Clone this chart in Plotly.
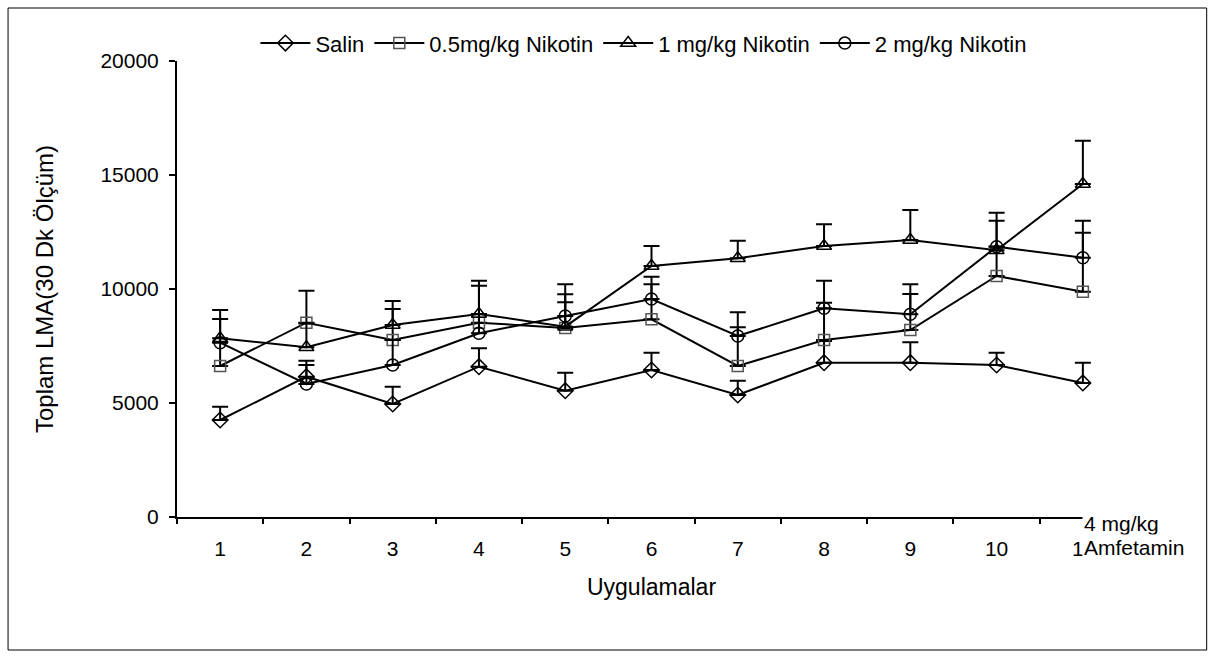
import plotly.graph_objects as go

categories = ["1", "2", "3", "4", "5", "6", "7", "8", "9", "10", "11"]

salin = [4254, 6154, 4956, 6592, 5540, 6447, 5351, 6768, 6768, 6667, 5880]
salin_se = [584, 702, 760, 806, 789, 759, 627, 950, 893, 540, 888]

nik05 = [6623, 8523, 7763, 8523, 8289, 8670, 6623, 7763, 8202, 10570, 9883]
nik05_se = [1050, 1403, 1360, 1623, 1478, 1535, 1697, 1637, 1579, 1290, 2587]

nik1 = [7836, 7442, 8421, 8904, 8347, 11009, 11346, 11886, 12149, 11700, 14605]
nik1_se = [1243, 1050, 1053, 1461, 1069, 877, 772, 952, 1316, 1297, 1900]

nik2 = [7645, 5833, 6667, 8057, 8816, 9561, 7939, 9153, 8889, 11857, 11373]
nik2_se = [1039, 834, 1100, 850, 1389, 979, 1039, 1212, 1316, 1491, 1624]

series = [
    ("Salin", salin, salin_se, "diamond-open", 12, "black"),
    ("0.5mg/kg Nikotin", nik05, nik05_se, "square-open", 11, "#555555"),
    ("1 mg/kg Nikotin", nik1, nik1_se, "triangle-up-open", 13, "black"),
    ("2 mg/kg Nikotin", nik2, nik2_se, "circle-open", 12, "black"),
]

y_ticks = [0, 5000, 10000, 15000, 20000]

fig = go.Figure()
for name, vals, se, sym, size, mcol in series:
    fig.add_trace(go.Scatter(
        x=categories, y=vals, name=name, mode="lines+markers",
        line=dict(color="black", width=2),
        marker=dict(symbol=sym, size=size, color=mcol, line=dict(width=1.5, color=mcol)),
        error_y=dict(type="data", symmetric=False, array=se, arrayminus=[0] * len(se),
                     color="black", thickness=2, width=8),
    ))

FONT = "Liberation Sans, Arial, sans-serif"

fig.update_layout(
    width=1216, height=666,
    margin=dict(l=177, r=90, t=61, b=149, pad=0, autoexpand=False),
    paper_bgcolor="white", plot_bgcolor="white",
    font=dict(family=FONT, size=21, color="black"),
    showlegend=True,
    legend=dict(orientation="h", x=0.492, xanchor="center", yref="container", y=0.935, yanchor="middle",
                font=dict(family=FONT, size=22), itemwidth=50,
                bgcolor="rgba(0,0,0,0)", tracegroupgap=0),
    xaxis=dict(type="category", range=[-0.5, 10.5], tickson="boundaries", ticks="outside", ticklen=5,
               tickwidth=1.5, tickcolor="black", showline=True, linecolor="black", linewidth=2,
               showgrid=False, zeroline=False, ticklabelstandoff=12,
               title=dict(text="Uygulamalar", standoff=20, font=dict(size=23))),
    yaxis=dict(range=[0, 20000], tickvals=y_ticks, tickformat="d", ticks="outside", ticklen=6,
               tickwidth=1.5, tickcolor="black", showline=True, linecolor="black", linewidth=2,
               showgrid=False, zeroline=False, ticklabelstandoff=6,
               title=dict(text="Toplam LMA(30 Dk Ölçüm)", standoff=40, font=dict(size=24))),
    shapes=[dict(type="rect", xref="paper", yref="paper",
                 x0=(8 - 177) / 949.3, x1=(1207 - 177) / 949.3,
                 y0=(517 - 650) / 456, y1=(517 - 8) / 456,
                 line=dict(color="black", width=1), fillcolor="rgba(0,0,0,0)", layer="below")],
    annotations=[
        dict(x="11", y=5000, xref="x", yref="y", xshift=-4, showarrow=True, ax=0, ay=110,
             arrowhead=2, arrowsize=1.5, arrowwidth=2, arrowcolor="black", text=""),
        dict(x=(1082 - 177) / 949.3, y=(517 - 510) / 456, xref="paper", yref="paper",
             xanchor="left", yanchor="top", align="left", showarrow=False,
             text="4 mg/kg", bgcolor="white", borderpad=1, width=110,
             font=dict(family=FONT, size=21)),
        dict(x=(1082 - 177) / 949.3, y=(517 - 534) / 456, xref="paper", yref="paper",
             xanchor="left", yanchor="top", align="left", showarrow=False,
             text="Amfetamin", bgcolor="white", borderpad=1, width=110,
             font=dict(family=FONT, size=21)),
    ],
)

fig.write_html("out.html")
